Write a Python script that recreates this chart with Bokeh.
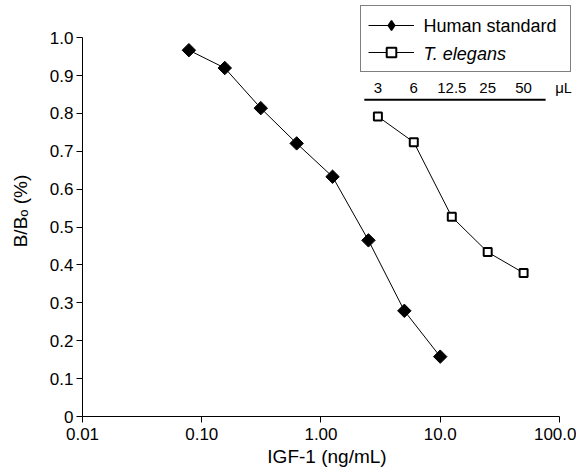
import numpy as np
from bokeh.plotting import figure
from bokeh.models import Range1d, FixedTicker, Legend, LegendItem, ColumnDataSource, Label
from bokeh.core.properties import value
from bokeh.embed import file_html
from bokeh.resources import INLINE

# ---- data ----
human_x = [0.078, 0.156, 0.3125, 0.625, 1.25, 2.5, 5.0, 10.0]
human_y = [0.967, 0.920, 0.814, 0.721, 0.633, 0.465, 0.279, 0.158]
eleg_x = [3, 6, 12.5, 25, 50]
eleg_y = [0.792, 0.724, 0.527, 0.434, 0.379]
vol_labels = ["3", "6", "12.5", "25", "50"]
series_names = ["Human standard", "T. elegans"]
x_ticks = [0.01, 0.1, 1, 10, 100]
x_tick_labels = ["0.01", "0.10", "1.00", "10.0", "100.0"]
y_ticks = [0, 0.1, 0.2, 0.3, 0.4, 0.5, 0.6, 0.7, 0.8, 0.9, 1.0]
y_tick_labels = ["0", "0.1", "0.2", "0.3", "0.4", "0.5", "0.6", "0.7", "0.8", "0.9", "1.0"]

FONT = "Liberation Sans"

p = figure(width=576, height=470, x_axis_type="log",
           x_range=Range1d(0.01, 126.1), y_range=Range1d(0, 1.085),
           output_backend="svg", toolbar_location=None,
           min_border_left=82, min_border_right=5, min_border_top=5, min_border_bottom=54)
p.outline_line_color = None
p.grid.visible = False
p.background_fill_color = "white"

for ax in (p.xaxis[0], p.yaxis[0]):
    ax.axis_line_color = "black"
    ax.axis_line_width = 1
    ax.major_tick_line_color = "black"
    ax.major_tick_out = 6
    ax.major_tick_in = 0
    ax.minor_tick_line_color = None
    ax.major_label_text_font = FONT
    ax.major_label_text_font_size = "17px"
    ax.major_label_text_color = "black"
    ax.axis_label_text_font = FONT
    ax.axis_label_text_font_size = "19px"
    ax.axis_label_text_font_style = "normal"
    ax.axis_label_text_color = "black"

p.xaxis[0].ticker = FixedTicker(ticks=x_ticks)
p.xaxis[0].major_label_overrides = {t: l for t, l in zip(x_ticks, x_tick_labels)}
p.xaxis[0].bounds = (x_ticks[0], x_ticks[-1])
p.xaxis[0].axis_label = "IGF-1 (ng/mL)"
p.xaxis[0].major_label_standoff = 5
p.xaxis[0].axis_label_standoff = 3

p.yaxis[0].ticker = FixedTicker(ticks=y_ticks)
p.yaxis[0].major_label_overrides = {t: l for t, l in zip(y_ticks, y_tick_labels)}
p.yaxis[0].bounds = (y_ticks[0], y_ticks[-1])
p.yaxis[0].axis_label = "B/B\u2092 (%)"
p.yaxis[0].major_label_standoff = 3
p.yaxis[0].axis_label_standoff = 16

# series
hl = p.line(human_x, human_y, line_color="black", line_width=1)
hs = p.scatter(human_x, human_y, marker="square", angle=np.pi / 4, size=9.5,
               fill_color="black", line_color="black")
el = p.line(eleg_x, eleg_y, line_color="black", line_width=1)
es = p.scatter(eleg_x, eleg_y, marker="square", size=8, fill_color="white",
               line_color="black", line_width=2)
# legend-only diamond (zero size in the plot; legend sizes markers itself)
hs_leg = p.scatter(human_x, human_y, marker="diamond", size=0,
                   fill_color="black", line_color="black", line_width=1.5)

# volume scale annotation
src = ColumnDataSource(dict(x=eleg_x + [eleg_x[-1] * 2.17], y=[0.868] * 6,
                            t=vol_labels + ["\u03bcL"]))
p.text(x="x", y="y", text="t", source=src, text_align="center", text_baseline="middle",
       text_font=value(FONT), text_font_size="15px", text_color="black")
p.line([eleg_x[0] / 1.3, eleg_x[-1] * 1.53], [0.836, 0.836], line_color="black", line_width=2)

legend = Legend(items=[LegendItem(label=" ", renderers=[hl, hs_leg]),
                       LegendItem(label=" ", renderers=[el, es])],
                location="top_right", margin=0, padding=7, spacing=3,
                glyph_width=46, glyph_height=24, label_height=24, label_width=141,
                label_standoff=8,
                label_text_font=FONT, label_text_font_size="18px",
                border_line_color="black", border_line_width=1,
                background_fill_alpha=0.0)
p.add_layout(legend)

# legend texts (second one in italics)
for name, ypos, style in zip(series_names, [391, 363], ["normal", "italic"]):
    p.add_layout(Label(x=341, y=ypos, x_units="screen", y_units="screen", text=name,
                       text_font=FONT, text_font_size="18px", text_font_style=style,
                       text_baseline="middle", text_align="left", text_color="black"))

open("out.html", "w").write(file_html(p, INLINE))
